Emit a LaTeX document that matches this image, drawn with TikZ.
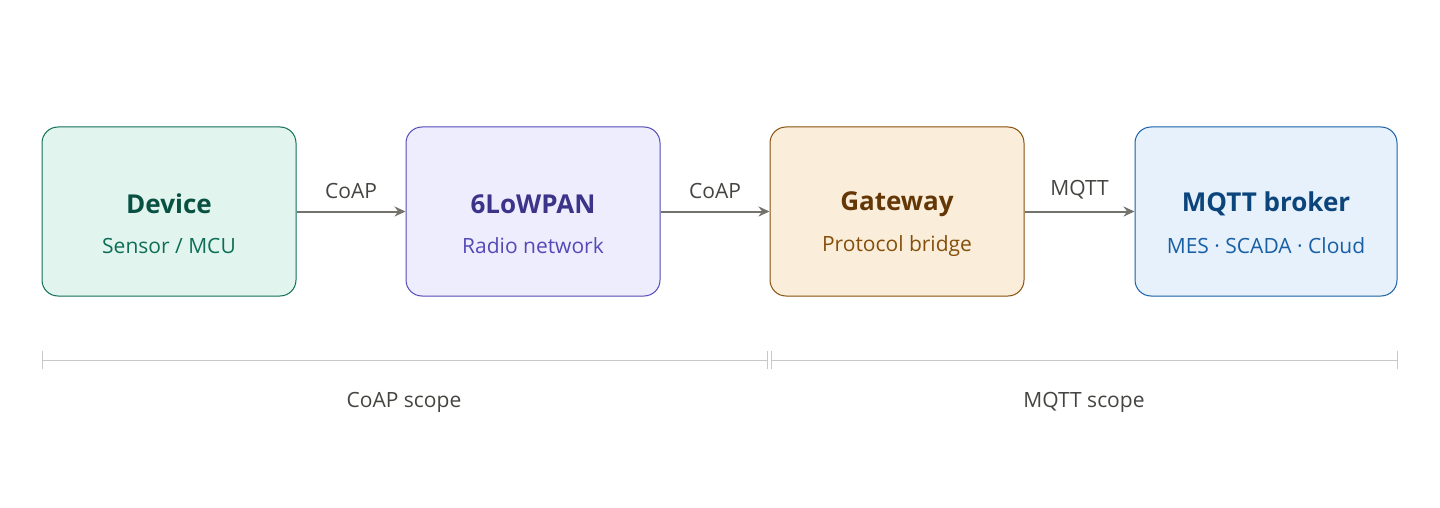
\documentclass[tikz,border=0pt]{standalone}
\usepackage{fontspec}
\setmainfont{Open Sans}
\usetikzlibrary{positioning,arrows.meta}
\definecolor{devfill}{HTML}{E1F5EE}\definecolor{devline}{HTML}{0F6E56}\definecolor{devtext}{HTML}{085041}
\definecolor{lowfill}{HTML}{EEEDFE}\definecolor{lowline}{HTML}{534AB7}\definecolor{lowtext}{HTML}{3C3489}
\definecolor{gwfill}{HTML}{FAEEDA}\definecolor{gwline}{HTML}{854F0B}\definecolor{gwtext}{HTML}{633806}
\definecolor{mqfill}{HTML}{E6F1FB}\definecolor{mqline}{HTML}{185FA5}\definecolor{mqtext}{HTML}{0C447C}
\definecolor{arrowgray}{HTML}{73726C}\definecolor{scopegray}{HTML}{C8C8C8}\definecolor{labelgray}{HTML}{444441}
\begin{document}
\begin{tikzpicture}[x=1pt,y=-1pt,
	box/.style={draw,rounded corners=16pt,minimum width=254pt,minimum height=169pt,line width=1pt},
	title/.style={font=\fontsize{26}{30}\selectfont\bfseries},
	sub/.style={font=\fontsize{21}{26}\selectfont},
	flow/.style={-{Stealth[length=11pt,width=10pt]},arrowgray,line width=2pt},
	proto/.style={font=\fontsize{21}{26}\selectfont,text=labelgray,above},
	scope/.style={scopegray,line width=1pt},
	scopelabel/.style={font=\fontsize{21}{26}\selectfont,text=labelgray}]
	\useasboundingbox (0,0) rectangle (1440,508);
	
	%BOXES
	\node[box,fill=devfill,draw=devline] (device) at (169,211.5) {};
	\node[box,fill=lowfill,draw=lowline] (lowpan) at (533,211.5) {};
	\node[box,fill=gwfill,draw=gwline] (gateway) at (897,211.5) {};
	\node[box,fill=mqfill,draw=mqline,minimum width=262pt] (broker) at (1266,211.5) {};
	
	%TEXTS
	\node[title,text=devtext] at (169,204) {Device};
	\node[sub,text=devline] at (169,246) {Sensor / MCU};
	\node[title,text=lowtext] at (533,204) {6LoWPAN};
	\node[sub,text=lowline] at (533,246) {Radio network};
	\node[title,text=gwtext] at (897,204) {Gateway};
	\node[sub,text=gwline] at (897,246) {Protocol bridge};
	\node[title,text=mqtext] at (1266,204) {MQTT broker};
	\node[sub,text=mqline] at (1266,246) {MES · SCADA · Cloud};
	
	%ARROWS
	\draw[flow] (device.east) -- node[proto,yshift=8pt] {CoAP} (lowpan.west);
	\draw[flow] (lowpan.east) -- node[proto,yshift=8pt] {CoAP} (gateway.west);
	\draw[flow] (gateway.east) -- node[proto,yshift=8pt] {MQTT} (broker.west);
	
	%SCOPES
	\coordinate (coapA) at (42,360);  \coordinate (coapB) at (767,360);
	\coordinate (mqttA) at (771,360); \coordinate (mqttB) at (1397,360);
	\draw[scope] (coapA) -- (coapB);
	\draw[scope] (mqttA) -- (mqttB);
	\foreach \c in {coapA,coapB,mqttA,mqttB}
		\draw[scope] ([yshift=-9pt]\c) -- ([yshift=9pt]\c);
	\node[scopelabel] (coapscope) at (404,402) {CoAP scope};
	\node[scopelabel] (mqttscope) at (1084,402) {MQTT scope};
\end{tikzpicture}
\end{document}
